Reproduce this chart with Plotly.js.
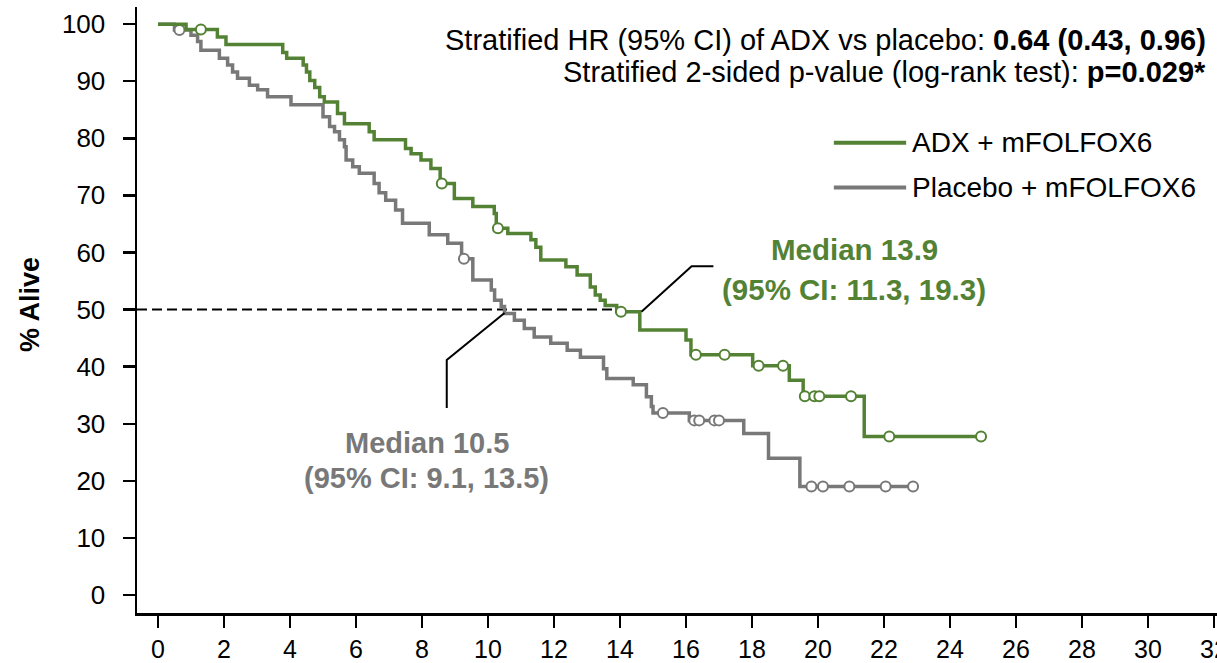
<!DOCTYPE html>
<html>
<head>
<meta charset="utf-8">
<script src="https://cdn.plot.ly/plotly-3.0.1.min.js"></script>
<style>
  html, body { margin: 0; padding: 0; background: #fff; }
  #chart { width: 1217px; height: 663px; }
</style>
</head>
<body>
<div id="chart"></div>
<script>
// Kaplan-Meier overall survival, % alive by month
const adxTime = [0, 0.85, 1.8, 2.06, 3.78, 3.9, 4.4, 4.5, 4.6, 4.75, 4.9, 5.04, 5.44, 5.65, 6.4, 6.55,
  7.5, 7.67, 7.97, 8.27, 8.55, 8.98, 9.54, 10.19, 10.25, 10.6, 11.3, 11.45, 11.6, 12.36, 12.7,
  13.1, 13.25, 13.4, 13.55, 13.9, 14.6, 16.0, 16.15, 18.02, 19.13, 19.55, 21.4];
const adxSurv = [100, 99.07, 97.76, 96.45, 95.04, 94.03, 92.82, 91.62, 90.11, 88.9, 87.29, 86.38, 84.36, 82.55, 81.14, 79.73,
  78.22, 77.31, 76.21, 74.7, 72.08, 69.46, 68.05, 66.84, 64.23, 63.32, 62.21, 60.9, 58.69, 57.48, 56.07,
  53.95, 52.54, 51.64, 50.73, 49.62, 46.4, 44.69, 42.07, 40.16, 37.64, 34.82, 27.77];
const adxCensor = [1.3, 8.6, 10.3, 14.03, 16.3, 17.17, 18.2, 18.94, 19.6, 19.89, 20.04, 21.0, 22.16, 24.94];

const placeboTime = [0, 0.5, 1.0, 1.2, 1.3, 1.86, 2.11, 2.26, 2.41, 2.77, 3.02, 3.32, 4.03, 5.0, 5.2, 5.35,
  5.5, 5.65, 5.7, 5.9, 6.1, 6.55, 6.7, 6.9, 7.2, 7.41, 8.22, 8.78, 9.2, 9.54, 10.1, 10.2, 10.4, 10.5,
  10.8, 11.1, 11.4, 11.9, 12.4, 12.8, 13.5, 13.6, 14.4, 14.8, 14.95, 15.0, 16.1, 17.75, 18.5, 19.45];
const placeboSurv = [100, 98.97, 98.06, 96.95, 95.44, 94.03, 92.82, 91.62, 90.51, 89.3, 88.49, 87.29, 85.88, 83.76, 82.05, 81.14,
  79.73, 78.52, 76.21, 75.0, 73.89, 72.08, 70.47, 69.16, 67.45, 65.13, 63.12, 61.61, 58.89, 55.16, 53.45, 51.64, 50.53, 49.32,
  48.11, 46.7, 45.19, 44.08, 42.88, 41.67, 39.65, 37.94, 36.83, 34.72, 33.01, 31.9, 30.59, 28.28, 23.94, 19.01];
const placeboCensor = [0.65, 9.27, 15.3, 16.25, 16.4, 16.86, 17.0, 19.8, 20.15, 20.95, 22.05, 22.88];

// Medians (months) and the 50% reference level
const medianAdx = 13.9;
const medianPlacebo = 10.5;
const medianLevel = 50;

const xTicks = [0, 2, 4, 6, 8, 10, 12, 14, 16, 18, 20, 22, 24, 26, 28, 30, 32];
const yTicks = [0, 10, 20, 30, 40, 50, 60, 70, 80, 90, 100];

const GREEN = '#548235';
const GRAY = '#787878';
const FONT = 'Liberation Sans, Arial, sans-serif';

// survival value of a step curve at time t
function survAt(times, surv, t) {
  let v = surv[0];
  for (let i = 0; i < times.length; i++) { if (times[i] <= t) v = surv[i]; }
  return v;
}

function curve(times, surv, censor, color) {
  const end = censor[censor.length - 1];
  const xs = times.concat([end]);
  const ys = surv.concat([surv[surv.length - 1]]);
  return [
    { x: xs, y: ys, mode: 'lines', line: { shape: 'hv', color: color, width: 3.5 }, hoverinfo: 'skip' },
    { x: censor, y: censor.map(t => survAt(times, surv, t)), mode: 'markers',
      marker: { symbol: 'circle', size: 10, color: '#ffffff', line: { color: color, width: 2 } }, hoverinfo: 'skip' }
  ];
}

const xMin = -0.636, xMax = 32.09;
const yMin = -3.15, yMax = 103.0;

const traces = [
  // dashed 50% line from the axis to the ADX median
  { x: [xMin, medianAdx], y: [medianLevel, medianLevel], mode: 'lines',
    line: { color: '#000', width: 2, dash: '10px,5px' }, hoverinfo: 'skip' },
  ...curve(placeboTime, placeboSurv, placeboCensor, GRAY),
  ...curve(adxTime, adxSurv, adxCensor, GREEN),
  // leader lines to the median labels
  { x: [8.75, 8.75, medianPlacebo], y: [32.75, 41.16, 49.4], mode: 'lines',
    line: { color: '#000', width: 2 }, hoverinfo: 'skip' },
  { x: [14.65, 16.17, 16.83], y: [49.6, 57.6, 57.6], mode: 'lines',
    line: { color: '#000', width: 2 }, hoverinfo: 'skip' },
  // legend samples
  { x: [20.48, 22.67], y: [79.2, 79.2], mode: 'lines', line: { color: GREEN, width: 4 }, hoverinfo: 'skip' },
  { x: [20.48, 22.67], y: [71.4, 71.4], mode: 'lines', line: { color: GRAY, width: 4 }, hoverinfo: 'skip' }
];

const ann = (x, y, text, opts) => Object.assign({
  x: x, y: y, xref: 'x', yref: 'y', text: text, showarrow: false,
  font: { family: FONT, size: 27, color: '#000' }, xanchor: 'center', yanchor: 'middle'
}, opts || {});

const layout = {
  width: 1217, height: 663,
  margin: { l: 137, r: 0, t: 7, b: 50, pad: 0 },
  paper_bgcolor: '#fff', plot_bgcolor: '#fff',
  showlegend: false,
  xaxis: {
    range: [xMin, xMax], tickvals: xTicks, ticktext: xTicks.map(String),
    ticks: 'outside', ticklen: 12, tickwidth: 2.5, tickcolor: '#000',
    showline: true, linewidth: 2.5, linecolor: '#000', mirror: false,
    showgrid: false, zeroline: false, ticklabeloverflow: 'allow', ticklabelstandoff: 0,
    tickfont: { family: FONT, size: 25, color: '#000' }, fixedrange: true
  },
  yaxis: {
    range: [yMin, yMax], tickvals: yTicks, ticktext: yTicks.map(String),
    ticks: 'outside', ticklen: 12, tickwidth: 2.5, tickcolor: '#000',
    showline: true, linewidth: 2.5, linecolor: '#000',
    showgrid: false, zeroline: false, ticklabelstandoff: 12,
    tickfont: { family: FONT, size: 26, color: '#000' }, fixedrange: true
  },
  annotations: [
    ann(31.82, 97.2, 'Stratified HR (95% CI) of ADX vs placebo: <b>0.64 (0.43, 0.96)</b>', { xanchor: 'right', font: { family: FONT, size: 29, color: '#000' } }),
    ann(31.82, 91.6, 'Stratified 2-sided p-value (log-rank test): <b>p=0.029*</b>', { xanchor: 'right', font: { family: FONT, size: 29, color: '#000' } }),
    ann(22.8, 79.2, 'ADX + mFOLFOX6', { xanchor: 'left', font: { family: FONT, size: 28, color: '#000' } }),
    ann(22.8, 71.4, 'Placebo + mFOLFOX6', { xanchor: 'left', font: { family: FONT, size: 28, color: '#000' } }),
    ann(21.1, 60.5, '<b>Median ' + medianAdx + '</b>', { font: { family: FONT, size: 29.5, color: GREEN } }),
    ann(21.1, 53.6, '<b>(95% CI: 11.3, 19.3)</b>', { font: { family: FONT, size: 29.5, color: GREEN } }),
    ann(8.15, 26.6, '<b>Median ' + medianPlacebo + '</b>', { font: { family: FONT, size: 29, color: GRAY } }),
    ann(8.15, 20.5, '<b>(95% CI: 9.1, 13.5)</b>', { font: { family: FONT, size: 29, color: GRAY } }),
    { x: -0.099, y: 50.8, xref: 'paper', yref: 'y', text: '<b>% Alive</b>', showarrow: false, textangle: -90,
      font: { family: FONT, size: 27, color: '#000' }, xanchor: 'center', yanchor: 'middle' }
  ]
};

Plotly.newPlot('chart', traces, layout, { staticPlot: true, displayModeBar: false });
</script>
</body>
</html>
